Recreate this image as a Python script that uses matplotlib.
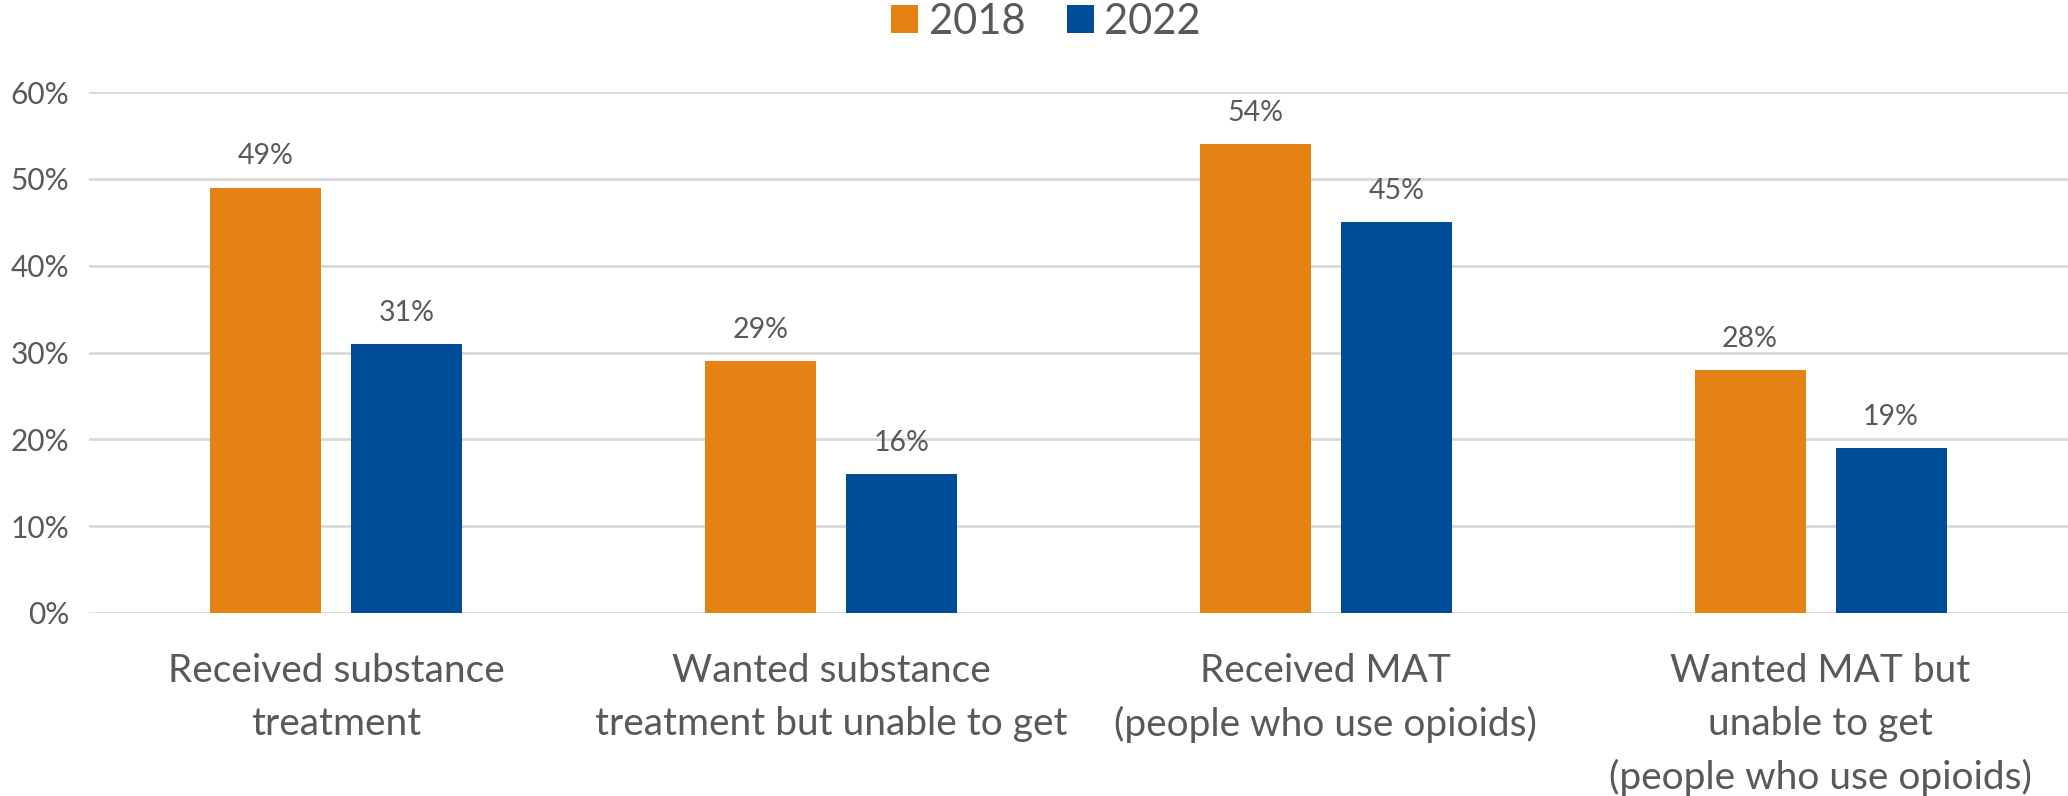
import matplotlib
matplotlib.use("Agg")
import matplotlib.pyplot as plt
from matplotlib.patches import Patch
import numpy as np

categories = [
    "Received substance\ntreatment",
    "Wanted substance\ntreatment but unable to get",
    "Received MAT\n(people who use opioids)",
    "Wanted MAT but\nunable to get\n(people who use opioids)",
]
series_names = ["2018", "2022"]
values_2018 = [49, 29, 54, 28]
values_2022 = [31, 16, 45, 19]
y_ticks = [0, 10, 20, 30, 40, 50, 60]

ORANGE = "#E58214"
BLUE = "#004C98"
TEXT = "#595959"
GRID = "#D9D9D9"

plt.rcParams["font.family"] = ["Lato", "DejaVu Sans"]

fig = plt.figure(figsize=(20.68, 7.96), dpi=100)
ax = fig.add_axes([89 / 2068, 1 - 613 / 796, 1 - 89 / 2068, (613 - 92) / 796])

x = np.arange(len(categories))
width = 0.224
offset = 0.1425
b1 = ax.bar(x - offset, values_2018, width, color=ORANGE, zorder=3)
b2 = ax.bar(x + offset, values_2022, width, color=BLUE, zorder=3)

for bars, vals in ((b1, values_2018), (b2, values_2022)):
    for rect, v in zip(bars, vals):
        ax.annotate(f"{v}%", (rect.get_x() + rect.get_width() / 2, v),
                    xytext=(0, 13), textcoords="offset points",
                    ha="center", va="bottom", fontsize=20.5, color=TEXT)

ax.set_xlim(-0.5, 3.5)
ax.set_ylim(0, 60)
ax.set_yticks(y_ticks)
ax.set_yticklabels([f"{t}%" for t in y_ticks])
ax.set_xticks(x)
ax.set_xticklabels(categories, fontsize=28, color=TEXT, linespacing=1.56)
ax.tick_params(axis="y", length=0, pad=14, labelsize=21.5, labelcolor=TEXT)
ax.tick_params(axis="x", length=0, pad=29)

ax.grid(axis="y", color=GRID, linewidth=2, zorder=0)
for s in ax.spines.values():
    s.set_visible(False)

handles = [Patch(facecolor=ORANGE, label=series_names[0]),
           Patch(facecolor=BLUE, label=series_names[1])]
leg = fig.legend(handles=handles, loc="center", bbox_to_anchor=(1046 / 2068, 1 - 22 / 796),
                 ncol=2, frameon=False, fontsize=30, handlelength=0.65, handleheight=0.65,
                 handletextpad=0.25, columnspacing=1.0, borderpad=0)
for t in leg.get_texts():
    t.set_color(TEXT)

fig.savefig("out.png", dpi=100, facecolor="white")
